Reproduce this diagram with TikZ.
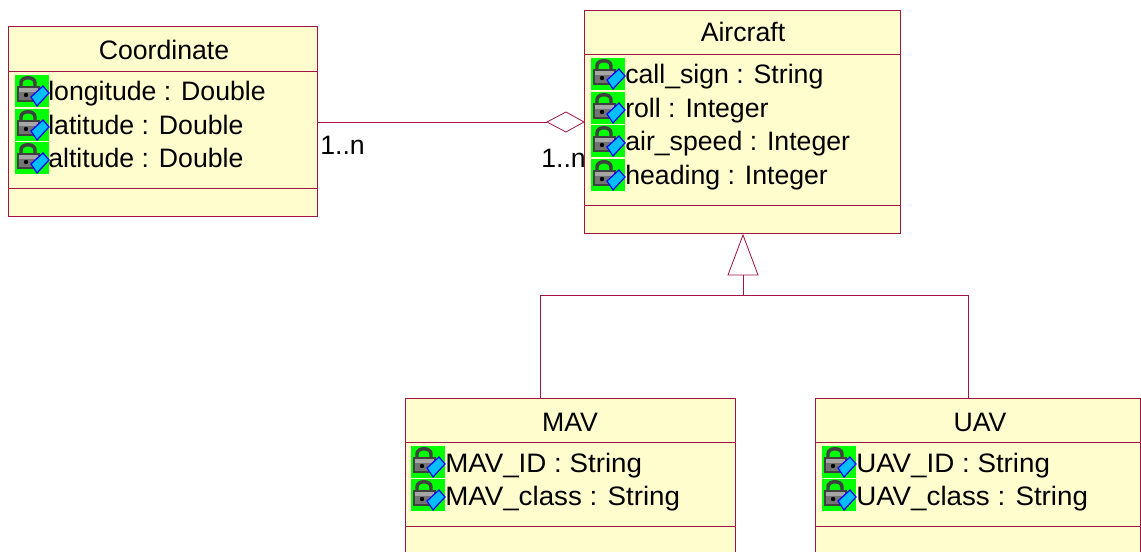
\documentclass[tikz,border=0pt]{standalone}
\usepackage{fontspec}
\setmainfont{Liberation Sans}
\newfontfamily\widerfont[FakeStretch=1.04]{Liberation Sans}
\definecolor{umlline}{RGB}{160,20,70}
\definecolor{umlfill}{RGB}{255,252,205}
\definecolor{icongreen}{RGB}{0,255,0}
\definecolor{iconblue}{RGB}{0,190,255}
\tikzset{
  x=0.75pt,y=-0.75pt,
  umlbox/.style={draw=umlline,fill=umlfill,line width=1pt},
  umlrule/.style={draw=umlline,line width=0.7pt},
  conn/.style={draw=umlline,line width=0.6pt},
  title/.style={font=\fontsize{20pt}{22pt}\selectfont,text=black,inner sep=0pt,anchor=base},
  attr/.style={font=\fontsize{20pt}{22pt}\selectfont,text=black,inner sep=0pt,anchor=base west},
  wideattr/.style={font=\widerfont\fontsize{20pt}{22pt}\selectfont,text=black,inner sep=0pt,anchor=base west},
  mult/.style={font=\fontsize{20pt}{22pt}\selectfont,text=black,inner sep=0pt,anchor=base west},
  lockicon/.pic={
    \fill[icongreen] (0,0) rectangle (34,32);
    \draw[line width=2.6pt,draw=black!75] (6,13) -- (6,8) .. controls (6,1) and (20,1) .. (20,8) -- (20,13);
    \fill[black!75] (2,11) rectangle (25,27);
    \fill[black!35] (4,13) rectangle (23,17);
    \fill[black!55] (4,17) rectangle (23,25);
    \fill[black] (11,20) circle (2.2);
    \fill[iconblue,draw=blue,line width=0.9pt] (16,22) -- (28,11) -- (34,18) -- (22,31) -- cycle;
  }
}
\newcommand{\umlclass}[7]{% name,x1,y1,x2,y2,div1,div2
  \node[umlbox,inner sep=0pt,anchor=north west,minimum width=(#4-#2)*0.75pt,minimum height=(#5-#3)*0.75pt] (#1) at (#2,#3) {};
  \draw[umlrule] (#2,#6) -- (#4,#6);
  \draw[umlrule] (#2,#7) -- (#4,#7);
}
\begin{document}
\begin{tikzpicture}
\useasboundingbox (0,0) rectangle (1141,552);
\fill[white] (0,0) rectangle (1141,552);
\umlclass{coord}{8}{26}{317}{216}{71}{188}
\umlclass{air}{584}{10}{900}{233}{54}{205}
\umlclass{mav}{405}{398}{735}{560}{442}{526}
\umlclass{uav}{815}{398}{1140}{560}{442}{526}
\clip (0,0) rectangle (1141,552);
\node[title] (t1) at (164,60) {Coordinate};
\node[title] (t2) at (743,42) {Aircraft};
\node[title] (t3) at (570,431) {MAV};
\node[title] (t4) at (980,431) {UAV};
\foreach \y/\t [count=\i] in {101/longitude : Double,135/latitude : Double,168/altitude : Double}{
  \pic at (15,\y-26) {lockicon};
  \node[attr] (c\i) at (48,\y) {\t};
}
\foreach \y/\t [count=\i] in {84/call\_sign : String,118/roll : Integer,151/air\_speed : Integer,185/heading : Integer}{
  \pic at (591,\y-26) {lockicon};
  \node[attr] (a\i) at (625,\y) {\t};
}
\foreach \y/\t [count=\i] in {472/MAV\_ID : String,505/MAV\_class : String}{
  \pic at (411,\y-26) {lockicon};
  \node[wideattr] (m\i) at (445,\y) {\t};
}
\foreach \y/\t [count=\i] in {472/UAV\_ID : String,505/UAV\_class : String}{
  \pic at (822,\y-26) {lockicon};
  \node[wideattr] (u\i) at (856,\y) {\t};
}
\node[mult] (m1) at (320,155) {1..n};
\node[mult] (m2) at (541,168) {1..n};
% aggregation
\coordinate (dtip) at (584,122);
\coordinate (dback) at (547,122);
\draw[conn,fill=white] (dtip) -- (566,112) -- (dback) -- (566,132) -- cycle;
\draw[conn] (coord.east |- dback) -- (dback);
% generalisation
\coordinate (gtip) at (743,235);
\coordinate (gbase) at (743,275);
\coordinate (gjoin) at (743,295);
\draw[conn,fill=white] (gtip) -- (758,275) -- (728,275) -- cycle;
\draw[conn] (gbase) -- (gjoin);
\draw[conn] (mav.north -| 540,0) -- (540,295) -- (968,295) -- (uav.north -| 968,0);
\end{tikzpicture}
\end{document}
